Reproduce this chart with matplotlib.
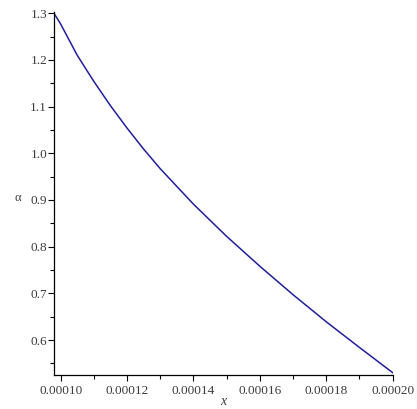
import matplotlib.pyplot as plt
from matplotlib.ticker import MultipleLocator, FormatStrFormatter

# alpha
x_vals = [0.0000980, 0.000100, 0.000105, 0.000110, 0.000115, 0.000120,
          0.000125, 0.000130, 0.000140, 0.000150, 0.000160, 0.000170,
          0.000180, 0.000190, 0.000200]
alpha_vals = [1.300, 1.277, 1.210, 1.154, 1.102, 1.054,
              1.009, 0.967, 0.891, 0.822, 0.758, 0.697,
              0.639, 0.584, 0.530]

plt.rcParams['font.family'] = ['Liberation Serif', 'DejaVu Serif']

fig = plt.figure(figsize=(4.17, 4.09), dpi=100)
ax = fig.add_axes([0.1295, 0.0831, 0.8122, 0.8883])

ax.plot(x_vals, alpha_vals, color='#1f1f9e', linewidth=1.1)

ax.set_xlim(0.000098, 0.0002)
ax.set_ylim(0.525, 1.3034)

for side in ['top', 'right']:
    ax.spines[side].set_visible(False)
for side in ['left', 'bottom']:
    ax.spines[side].set_linewidth(0.9)

ax.xaxis.set_major_locator(MultipleLocator(0.00002))
ax.xaxis.set_minor_locator(MultipleLocator(0.00001))
ax.xaxis.set_major_formatter(FormatStrFormatter('%.5f'))
ax.yaxis.set_major_locator(MultipleLocator(0.1))
ax.yaxis.set_minor_locator(MultipleLocator(0.05))
ax.yaxis.set_major_formatter(FormatStrFormatter('%.1f'))

ax.tick_params(which='major', length=4, width=0.8, labelsize=9.5,
               labelcolor='#3c3c3c')
ax.tick_params(which='minor', length=3, width=0.8)
ax.tick_params(axis='y', pad=1)
ax.tick_params(axis='x', pad=3)

ax.set_xlabel('x', fontsize=10, style='italic', color='#3c3c3c', labelpad=-1)
ax.set_ylabel('α', fontsize=9, color='#3c3c3c', rotation=0,
              ha='center', va='center')
ax.yaxis.set_label_coords(-0.107, 0.487)

fig.savefig('out.png', dpi=100)
